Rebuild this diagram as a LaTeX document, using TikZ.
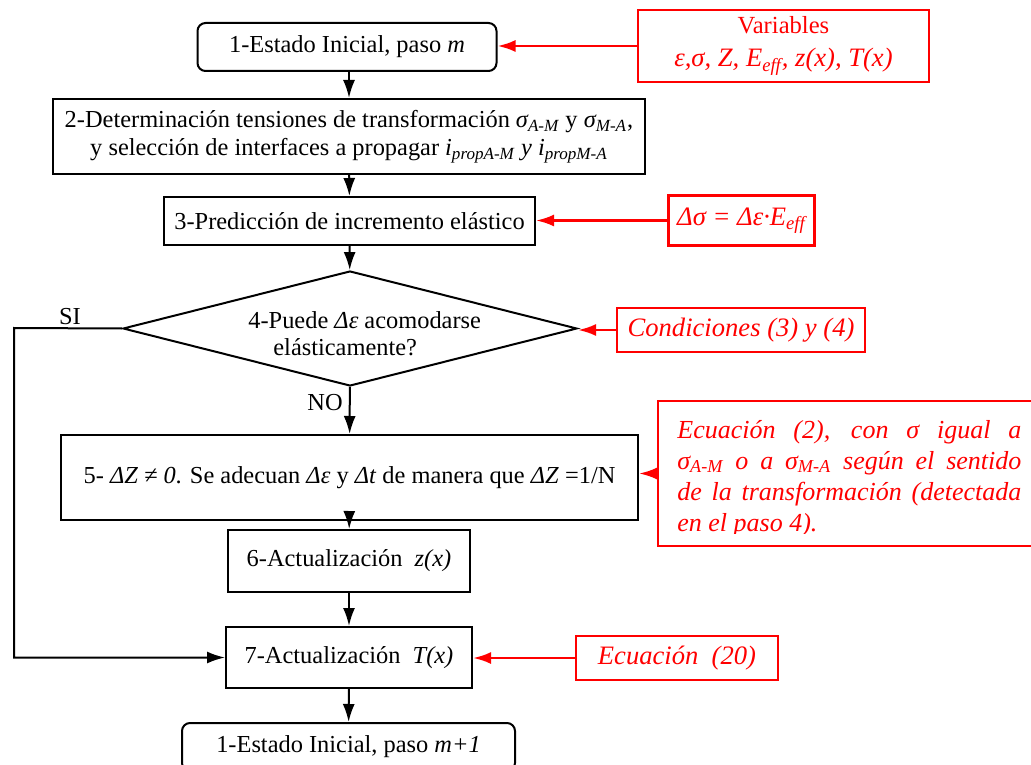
\documentclass[tikz,border=0pt]{standalone}
\usepackage{fontspec}
\setmainfont{Liberation Serif}
\usetikzlibrary{shapes.geometric,arrows.meta}

\newcommand{\idx}[1]{\textsubscript{#1}}

\tikzset{
  stepbox/.style={draw, line width=1pt, inner sep=0pt, align=center},
  decision/.style={diamond, draw, line width=1pt, aspect=3.95, inner sep=0pt},
  redbox/.style={draw=red, line width=1.2pt, text=red, inner sep=0pt, align=center, font=\fontsize{13.3}{16.5}\selectfont\itshape},
  flow/.style={line width=1pt, -{Latex[length=9pt,width=6pt]}},
  redflow/.style={draw=red, line width=1.3pt, -{Latex[length=9pt,width=6pt]}}
}

\begin{document}
\begin{tikzpicture}[x=0.5pt, y=-0.5pt, font=\fontsize{12.2}{14}\selectfont]
  \clip (0,0) rectangle (1031,764);

  % Steps
  \node[stepbox, rounded corners=4pt, minimum width=149.5pt, minimum height=24pt] (paso1) at (347,47) {1-Estado Inicial, paso \textit{m}};
  \node[stepbox, minimum width=296pt, minimum height=37.5pt] (paso2) at (349,136.5)
    {2-Determinación tensiones de transformación \textit{σ\idx{A-M}} y \textit{σ\idx{M-A}},\\
     y selección de interfaces a propagar \textit{i\idx{propA-M} y i\idx{propM-A}}};
  \node[stepbox, minimum width=185.5pt, minimum height=24pt] (paso3) at (349.5,221) {3-Predicción de incremento elástico};
  \node[decision, minimum width=227pt, minimum height=57.5pt] (paso4) at (350,328.5) {};
  \node[anchor=base west, inner sep=0pt, align=left, font=\fontsize{12.2}{13.5}\selectfont] (paso4txt) at (248,355)
    {4-Puede \textit{Δε} acomodarse\\ \hspace*{12.5pt}elásticamente?};
  \node[stepbox, minimum width=288.5pt, minimum height=42.5pt] (paso5) at (349.5,477.5)
    {5- \textit{ΔZ ≠ 0}. Se adecuan \textit{Δε} y \textit{Δt} de manera que \textit{ΔZ} =1/N};
  \node[stepbox, minimum width=121pt, minimum height=31pt] (paso6) at (349,561) {6-Actualización\ \ \textit{z(x)}};
  \node[stepbox, minimum width=123pt, minimum height=30.5pt] (paso7) at (349,657.5) {7-Actualización\ \ \textit{T(x)}};
  \node[stepbox, rounded corners=4pt, minimum width=166.5pt, minimum height=24pt] (paso8) at (348.5,747) {1-Estado Inicial, paso \textit{m+1}};

  % Inputs
  \node[redbox, minimum width=145.5pt, minimum height=36pt] (vars) at (783.5,46)
    {\fontsize{12.3}{16.5}\selectfont\upshape Variables\\ ε,σ, Z, E\idx{eff}, z(x), T(x)};
  \node[redbox, minimum width=73pt, minimum height=25pt] (dsig) at (741.5,220.5) {Δσ = Δε·E\idx{eff}};
  \node[redbox, minimum width=124pt, minimum height=22pt] (cond) at (741,330) {Condiciones (3) y (4)};
  \node[redbox, minimum width=193.5pt, minimum height=72.5pt] (ecu2) at (851.5,473.5) {};
  \node[redbox, minimum width=101pt, minimum height=22pt] (ecu20) at (677,658) {Ecuación\ \ (20)};

  \begin{scope}
    \clip (660,403) rectangle (1031,533);
    \node[text=red, anchor=base west, inner sep=0pt, text width=172pt, align=justify,
          font=\fontsize{13}{15.5}\selectfont\itshape] (ecu2txt) at (677,438)
      {Ecuación (2), con σ igual a\linebreak
       σ\idx{A-M} o a σ\idx{M-A} según el sentido\linebreak
       de la transformación (detectada\linebreak
       en el paso 4).};
  \end{scope}

  % Labels
  \node (si) at (70,317) {SI};
  \node (no) at (325,403) {NO};
  \coordinate (siTop) at (14,328);
  \coordinate (siBot) at (14,657.5);

  % Flow
  \draw[flow] (paso1.south -| paso2.north) -- (paso2.north);
  \draw[flow] (paso2) -- (paso3);
  \draw[flow] (paso3) -- (paso4);
  \draw[flow] (paso4) -- (paso5);
  \draw[flow] (paso5) -- (paso6);
  \draw[flow] (paso6) -- (paso7);
  \draw[flow] (paso7) -- (paso8);
  \draw[flow] (paso4.west) -- (siTop) -- (siBot) -- (paso7.west);

  % Red inputs
  \draw[redflow] (vars.west) -- (vars.west -| paso1.east);
  \draw[redflow] (dsig.west) -- (dsig.west -| paso3.east);
  \draw[redflow] (cond.west) -- (cond.west -| paso4.east);
  \draw[redflow] (ecu2.west) -- (ecu2.west -| paso5.east);
  \draw[redflow] (ecu20.west) -- (ecu20.west -| paso7.east);

\end{tikzpicture}
\end{document}
